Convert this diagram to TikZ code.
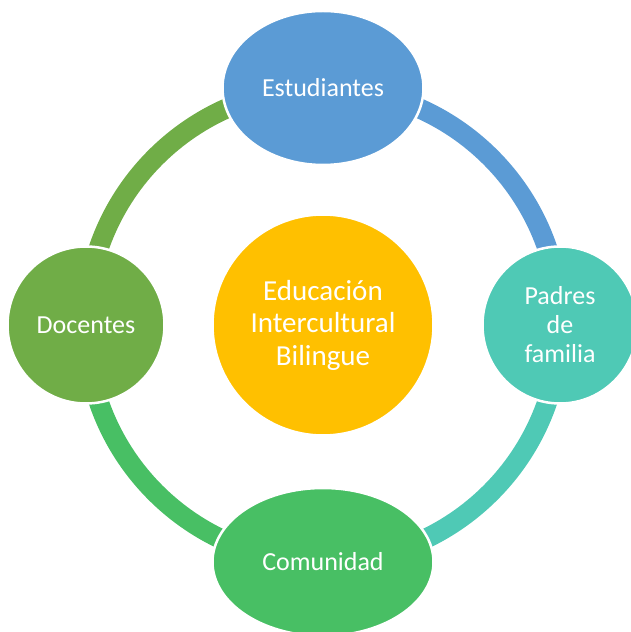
\documentclass[tikz,border=0pt]{standalone}
\usepackage{fontspec}
\setmainfont{Carlito}
\usetikzlibrary{shapes.geometric}
\definecolor{cblue}{HTML}{5B9BD5}
\definecolor{cteal}{HTML}{4FC9B5}
\definecolor{cgreen}{HTML}{48BF64}
\definecolor{colive}{HTML}{70AD47}
\definecolor{cgold}{HTML}{FFC000}
\tikzset{
  bub/.style={ellipse, draw=white, line width=2.5pt, text=white, align=center, inner sep=0pt,
    font=\fontsize{26pt}{29pt}\selectfont},
  ring/.style={line width=20pt},
}
\begin{document}
\begin{tikzpicture}[x=1pt,y=1pt]
\useasboundingbox (0,0) rectangle (631,632);
\coordinate (ctr) at (323,307);
\node[bub, fill=cgold, minimum width=221pt, minimum height=221pt, font=\fontsize{29pt}{32.5pt}\selectfont] (core) at (ctr) {Educación\\Intercultural\\Bilingue};
\coordinate (ptop) at (323,544);
\coordinate (pright) at (560,307);
\coordinate (pbot) at (323,70);
\coordinate (pleft) at (86,307);
\draw[ring, cblue] (ptop) arc[start angle=90, end angle=0, radius=237];
\draw[ring, cteal] (pright) arc[start angle=0, end angle=-90, radius=237];
\draw[ring, cgreen] (pbot) arc[start angle=-90, end angle=-180, radius=237];
\draw[ring, colive] (pleft) arc[start angle=180, end angle=90, radius=237];
\node[bub, fill=cblue, minimum width=201pt, minimum height=154pt] (est) at (ptop) {Estudiantes};
\node[bub, fill=cteal, minimum width=155pt, minimum height=157pt] (pad) at (pright) {Padres\\de\\familia};
\node[bub, fill=cgreen, minimum width=221pt, minimum height=148pt] (com) at (pbot) {Comunidad};
\node[bub, fill=colive, minimum width=157pt, minimum height=157pt] (doc) at (pleft) {Docentes};
\end{tikzpicture}
\end{document}
